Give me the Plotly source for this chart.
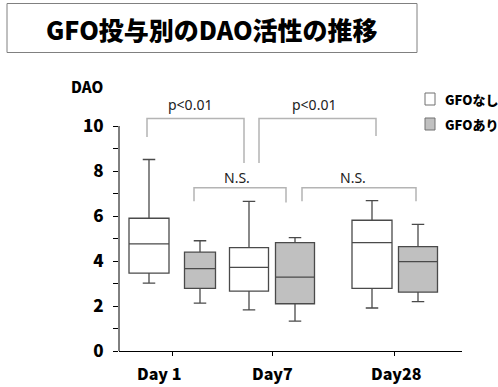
import plotly.graph_objects as go

# --- data -------------------------------------------------------------
days = ["Day 1", "Day7", "Day28"]

# GFOなし (no GFO)
none_upper = [8.51, 6.65, 6.68]
none_q3 = [5.90, 4.59, 5.81]
none_median = [4.76, 3.72, 4.82]
none_q1 = [3.46, 2.66, 2.78]
none_lower = [3.02, 1.83, 1.91]

# GFOあり (with GFO)
gfo_upper = [4.90, 5.04, 5.63]
gfo_q3 = [4.39, 4.82, 4.64]
gfo_median = [3.66, 3.28, 3.97]
gfo_q1 = [2.78, 2.10, 2.62]
gfo_lower = [2.13, 1.33, 2.19]

y_ticks = [0, 2, 4, 6, 8, 10]
y_minor_ticks = [1, 3, 5, 7, 9]

# --- layout geometry (x axis measured in pixel-like units) ------------
W, H = 498, 387
ML, MR, MT, MB = 119, 36, 99, 36
PW, PH = W - ML - MR, H - MT - MB
Y_MAX = 11.2

none_pos = [30, 130, 253]
gfo_pos = [81, 176, 299]
none_width = [40, 39, 40]
gfo_width = [31, 39, 39]
tick_pos = [53, 153, 275]
label_pos = [40, 153, 277]

# significance brackets: left x, right x, top y, left-leg end, right-leg end, text, text y, text x
brackets = [
    (28, 125, 10.33, 9.51, 8.36, "p<0.01", 10.95, 71),
    (140, 257, 10.33, 8.36, 9.56, "p<0.01", 10.95, 195),
    (75, 167, 7.25, 6.66, 6.60, "N.S.", 7.72, 118),
    (183, 297, 7.25, 6.66, 6.66, "N.S.", 7.72, 234),
]


def px_x(p):
    return (p - ML) / PW


def px_y(p):
    return (MT + PH - p) / PH


BOLD = dict(family="Noto Sans CJK JP", weight=900, color="black")

fig = go.Figure()

groups = [
    ("GFOなし", none_pos, none_width, none_lower, none_q1, none_median, none_q3, none_upper, "white"),
    ("GFOあり", gfo_pos, gfo_width, gfo_lower, gfo_q1, gfo_median, gfo_q3, gfo_upper, "#c0c0c0"),
]
for name, pos, wid, lo, q1, med, q3, up, fill in groups:
    for i in range(len(days)):
        fig.add_trace(go.Box(
            name=name,
            x=[pos[i]],
            lowerfence=[lo[i]], q1=[q1[i]], median=[med[i]],
            q3=[q3[i]], upperfence=[up[i]],
            width=wid[i],
            whiskerwidth=12.5 / wid[i],
            fillcolor=fill,
            line=dict(color="#4a4a4a", width=1.3),
            boxpoints=False,
            showlegend=False,
            hoverinfo="skip",
        ))

shapes = []
annotations = []

# y axis line (only up to 10)
shapes.append(dict(type="line", xref="paper", yref="y", x0=0, x1=0, y0=0, y1=10,
                   line=dict(color="black", width=1)))

# brackets
for xl, xr, yt, yl, yr, txt, ty, tx in brackets:
    shapes.append(dict(type="path", xref="x", yref="y",
                       path=f"M{xl},{yl} L{xl},{yt} L{xr},{yt} L{xr},{yr}",
                       line=dict(color="#b4b4b4", width=1.5)))
    annotations.append(dict(x=tx, y=ty, xref="x", yref="y", text=txt, showarrow=False,
                            xanchor="center", yanchor="middle",
                            font=dict(family="Noto Sans", size=14, color="#222")))

# x category labels
for lp, d in zip(label_pos, days):
    annotations.append(dict(x=lp, y=px_y(373), xref="x", yref="paper", text=d,
                            showarrow=False, xanchor="center", yanchor="middle",
                            font=dict(size=16, **BOLD)))

# axis title
annotations.append(dict(x=px_x(87), y=px_y(87), xref="paper", yref="paper", text="DAO",
                        showarrow=False, xanchor="center", yanchor="middle",
                        font=dict(size=15, **BOLD)))

# title box
shapes.append(dict(type="rect", xref="paper", yref="paper",
                   x0=px_x(7), x1=px_x(417), y0=px_y(52.5), y1=px_y(3.5),
                   line=dict(color="#808080", width=1), fillcolor="white"))
annotations.append(dict(x=px_x(212), y=px_y(29), xref="paper", yref="paper",
                        text="GFO投与別のDAO活性の推移", showarrow=False,
                        xanchor="center", yanchor="middle",
                        font=dict(size=25, **BOLD)))

# legend
for (name, fill), yc in zip([("GFOなし", "white"), ("GFOあり", "#c0c0c0")], [99, 124]):
    shapes.append(dict(type="rect", xref="paper", yref="paper",
                       x0=px_x(425), x1=px_x(435), y0=px_y(yc + 6), y1=px_y(yc - 6),
                       line=dict(color="#707070", width=1), fillcolor=fill))
    annotations.append(dict(x=px_x(443), y=px_y(yc), xref="paper", yref="paper",
                            text=name, showarrow=False, xanchor="left", yanchor="middle",
                            font=dict(size=13, **BOLD)))

fig.update_layout(
    width=W, height=H,
    margin=dict(l=ML, r=MR, t=MT, b=MB),
    paper_bgcolor="white", plot_bgcolor="white",
    shapes=shapes, annotations=annotations,
    showlegend=False,
    xaxis=dict(range=[0, PW], showgrid=False, zeroline=False,
               showline=True, linecolor="black", linewidth=1.3,
               tickvals=tick_pos, ticktext=["", "", ""], ticks="outside",
               ticklen=4, tickcolor="black"),
    yaxis=dict(range=[0, Y_MAX], showgrid=False, zeroline=False, showline=False,
               tickvals=y_ticks, ticks="outside", ticklen=5, tickcolor="black",
               tickfont=dict(size=17, **BOLD), ticklabelstandoff=6,
               minor=dict(tickvals=y_minor_ticks, ticks="outside", ticklen=5,
                          tickcolor="black")),
)

fig.write_html("out.html")
